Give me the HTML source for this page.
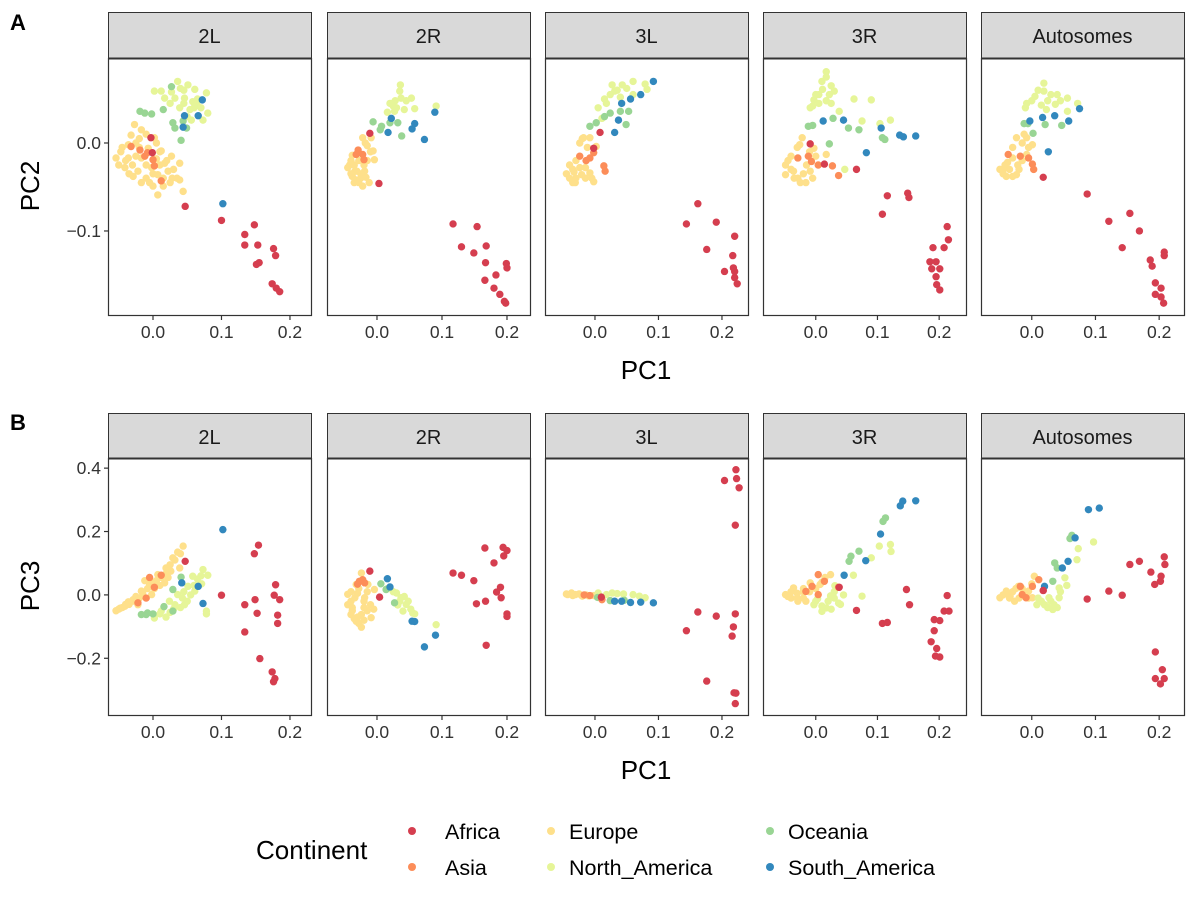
<!DOCTYPE html>
<html><head><meta charset="utf-8"><style>
body{margin:0;background:#fff;}
svg{display:block;font-family:"Liberation Sans",Arial,sans-serif;}
</style></head><body>
<svg id="chart" width="1200" height="901" viewBox="0 0 1200 901" xmlns="http://www.w3.org/2000/svg">
<text x="10" y="30" font-size="22" font-weight="bold">A</text>
<text x="10" y="430" font-size="22" font-weight="bold">B</text>
<text x="646" y="379" font-size="26" text-anchor="middle">PC1</text>
<text x="646" y="779" font-size="26" text-anchor="middle">PC1</text>
<text transform="translate(39,186) rotate(-90)" font-size="26" text-anchor="middle">PC2</text>
<text transform="translate(39,586) rotate(-90)" font-size="26" text-anchor="middle">PC3</text>
<g id="panels"></g>
<g>
<text x="256" y="859" font-size="26">Continent</text>
<g><circle cx="412" cy="831" r="4" fill="#d53e4f"/><text x="445" y="839" font-size="21.5">Africa</text></g>
<g><circle cx="412" cy="867" r="4" fill="#fc8d59"/><text x="445" y="875" font-size="21.5">Asia</text></g>
<g><circle cx="551" cy="831" r="4" fill="#fee08b"/><text x="569" y="839" font-size="21.5">Europe</text></g>
<g><circle cx="551" cy="867" r="4" fill="#e6f598"/><text x="569" y="875" font-size="21.5">North_America</text></g>
<g><circle cx="770" cy="831" r="4" fill="#99d594"/><text x="788" y="839" font-size="21.5">Oceania</text></g>
<g><circle cx="770" cy="867" r="4" fill="#3288bd"/><text x="788" y="875" font-size="21.5">South_America</text></g>
</g>
</svg>
<script>
const panelNames = ["2L","2R","3L","3R","Autosomes"];
const xTicks = [0.0, 0.1, 0.2];
const xTickLabels = ["0.0","0.1","0.2"];
const yTicksA = [0.0, -0.1];
const yTickLabelsA = ["0.0","\u22120.1"];
const yTicksB = [0.4, 0.2, 0.0, -0.2];
const yTickLabelsB = ["0.4","0.2","0.0","\u22120.2"];
const continents = ["Eu","NA","Oc","As","SA","Af"];
const continentColors = {Af:"#d53e4f",As:"#fc8d59",Eu:"#fee08b",NA:"#e6f598",Oc:"#99d594",SA:"#3288bd"};

const pc2_2L = [[0.047,-0.072,"Af"],[0.100,-0.088,"Af"],[0.148,-0.093,"Af"],[0.134,-0.104,"Af"],[0.134,-0.116,"Af"],[0.153,-0.116,"Af"],[0.176,-0.120,"Af"],[0.179,-0.128,"Af"],[0.151,-0.138,"Af"],[0.155,-0.136,"Af"],[0.174,-0.160,"Af"],[0.180,-0.165,"Af"],[0.185,-0.169,"Af"],[-0.003,0.006,"Af"],[-0.001,-0.011,"Af"],
[0.102,-0.069,"SA"],[0.072,0.049,"SA"],[0.046,0.031,"SA"],[0.066,0.031,"SA"],[0.044,0.018,"SA"],
[-0.019,0.036,"Oc"],[-0.012,0.034,"Oc"],[-0.002,0.033,"Oc"],[0.015,0.038,"Oc"],[0.027,0.064,"Oc"],[0.029,0.023,"Oc"],[0.032,0.017,"Oc"],[0.049,0.017,"Oc"],[0.041,0.003,"Oc"],[0.044,0.025,"Oc"],
[0.002,0.059,"NA"],[0.017,0.051,"NA"],[0.036,0.070,"NA"],[0.051,0.066,"NA"],[0.061,0.061,"NA"],[0.078,0.057,"NA"],[0.032,0.051,"NA"],[0.046,0.051,"NA"],[0.058,0.047,"NA"],[0.039,0.040,"NA"],[0.054,0.038,"NA"],[0.080,0.034,"NA"],[0.073,0.026,"NA"],[0.056,0.026,"NA"],[0.027,0.058,"NA"],[0.012,0.059,"NA"],[0.040,0.062,"NA"],[0.064,0.044,"NA"],
[0.045,0.060,"NA"],[0.065,0.050,"NA"],[0.070,0.040,"NA"],[0.045,0.045,"NA"],[0.060,0.040,"NA"],[0.025,0.045,"NA"],[0.050,0.030,"NA"],
[-0.027,0.021,"Eu"],[-0.017,0.015,"Eu"],[-0.032,0.009,"Eu"],[0.002,0.006,"Eu"],[-0.054,-0.017,"Eu"],[-0.036,-0.017,"Eu"],[-0.017,-0.017,"Eu"],[0.012,-0.009,"Eu"],[0.027,-0.015,"Eu"],[0.039,-0.023,"Eu"],[-0.041,-0.028,"Eu"],[-0.022,-0.032,"Eu"],[-0.002,-0.028,"Eu"],[0.022,-0.032,"Eu"],[0.039,-0.042,"Eu"],[-0.017,-0.045,"Eu"],[0.000,-0.049,"Eu"],[0.007,-0.059,"Eu"],[0.044,-0.055,"Eu"],[0.015,-0.049,"Eu"],[-0.036,-0.002,"Eu"],[-0.007,-0.006,"Eu"],[0.017,-0.023,"Eu"],[-0.029,-0.038,"Eu"],[0.007,-0.036,"Eu"],[-0.047,-0.010,"Eu"],[-0.025,0.000,"Eu"],[0.005,-0.018,"Eu"],[-0.010,-0.040,"Eu"],[0.028,-0.040,"Eu"],
[-0.045,-0.005,"Eu"],[-0.040,-0.020,"Eu"],[-0.030,-0.025,"Eu"],[-0.020,-0.005,"Eu"],[-0.010,-0.025,"Eu"],[0.000,-0.035,"Eu"],[0.010,-0.025,"Eu"],[0.020,-0.020,"Eu"],[0.030,-0.030,"Eu"],[0.025,-0.045,"Eu"],[-0.005,-0.045,"Eu"],[-0.020,0.005,"Eu"],[-0.010,0.010,"Eu"],[0.005,0.000,"Eu"],[-0.050,-0.025,"Eu"],[-0.035,-0.035,"Eu"],[0.015,-0.040,"Eu"],[0.035,-0.040,"Eu"],[-0.025,-0.015,"Eu"],[0.010,-0.010,"Eu"],
[-0.032,-0.004,"As"],[-0.019,-0.008,"As"],[-0.012,-0.015,"As"],[0.000,-0.019,"As"],[0.002,-0.026,"As"],[0.012,-0.043,"As"],[-0.008,-0.011,"As"]];

const pc2_2R = [[-0.011,0.011,"Af"],[0.003,-0.046,"Af"],[0.117,-0.092,"Af"],[0.154,-0.095,"Af"],[0.130,-0.118,"Af"],[0.149,-0.125,"Af"],[0.168,-0.117,"Af"],[0.167,-0.136,"Af"],[0.199,-0.137,"Af"],[0.200,-0.142,"Af"],[0.183,-0.150,"Af"],[0.166,-0.156,"Af"],[0.180,-0.165,"Af"],[0.189,-0.172,"Af"],[0.196,-0.180,"Af"],[0.198,-0.182,"Af"],
[0.017,0.012,"SA"],[0.022,0.028,"SA"],[0.054,0.016,"SA"],[0.058,0.022,"SA"],[0.073,0.004,"SA"],[0.089,0.035,"SA"],
[-0.006,0.024,"Oc"],[0.007,0.019,"Oc"],[0.020,0.023,"Oc"],[0.032,0.023,"Oc"],[0.038,0.008,"Oc"],[0.005,0.015,"Oc"],
[0.036,0.066,"NA"],[0.035,0.059,"NA"],[0.020,0.045,"NA"],[0.037,0.051,"NA"],[0.053,0.051,"NA"],[0.058,0.039,"NA"],[0.027,0.036,"NA"],[0.016,0.035,"NA"],[0.091,0.042,"NA"],[0.028,0.048,"NA"],
[0.030,0.040,"NA"],[0.045,0.048,"NA"],[0.025,0.042,"NA"],[0.042,0.038,"NA"],
[-0.022,0.006,"Eu"],[-0.009,0.006,"Eu"],[-0.006,-0.009,"Eu"],[-0.004,-0.019,"Eu"],[-0.042,-0.025,"Eu"],[-0.034,-0.032,"Eu"],[-0.038,-0.014,"Eu"],[-0.019,-0.032,"Eu"],[-0.032,-0.042,"Eu"],[-0.022,-0.049,"Eu"],[-0.031,-0.032,"Eu"],[-0.025,-0.040,"Eu"],[-0.045,-0.028,"Eu"],[-0.017,-0.039,"Eu"],[-0.015,-0.003,"Eu"],[-0.038,-0.038,"Eu"],
[-0.040,-0.020,"Eu"],[-0.035,-0.025,"Eu"],[-0.028,-0.020,"Eu"],[-0.028,-0.045,"Eu"],[-0.040,-0.035,"Eu"],[-0.015,-0.020,"Eu"],[-0.012,-0.045,"Eu"],[-0.020,-0.025,"Eu"],[-0.010,-0.010,"Eu"],[-0.035,-0.045,"Eu"],[-0.018,0.000,"Eu"],[-0.025,-0.035,"Eu"],
[-0.029,-0.008,"As"],[-0.022,-0.013,"As"],[-0.032,-0.013,"As"],[-0.020,-0.019,"As"]];

const pc2_3L = [[0.008,0.012,"Af"],[-0.002,-0.006,"Af"],[0.162,-0.069,"Af"],[0.144,-0.092,"Af"],[0.191,-0.090,"Af"],[0.220,-0.106,"Af"],[0.176,-0.121,"Af"],[0.217,-0.128,"Af"],[0.204,-0.146,"Af"],[0.220,-0.146,"Af"],[0.220,-0.153,"Af"],[0.224,-0.160,"Af"],[0.218,-0.142,"Af"],
[0.092,0.070,"SA"],[0.072,0.055,"SA"],[0.056,0.050,"SA"],[0.042,0.045,"SA"],[0.037,0.026,"SA"],[0.031,0.012,"SA"],
[-0.008,0.019,"Oc"],[0.002,0.023,"Oc"],[0.024,0.034,"Oc"],[0.040,0.036,"Oc"],[0.053,0.036,"Oc"],[0.049,0.021,"Oc"],[0.015,0.030,"Oc"],
[0.027,0.066,"NA"],[0.043,0.066,"NA"],[0.060,0.070,"NA"],[0.079,0.067,"NA"],[0.082,0.061,"NA"],[0.024,0.055,"NA"],[0.018,0.045,"NA"],[0.005,0.040,"NA"],[0.031,0.059,"NA"],[0.011,0.028,"NA"],[0.060,0.055,"NA"],
[0.035,0.060,"NA"],[0.050,0.062,"NA"],[0.015,0.050,"NA"],[0.040,0.052,"NA"],
[-0.024,0.000,"Eu"],[-0.008,0.006,"Eu"],[0.002,-0.004,"Eu"],[-0.040,-0.025,"Eu"],[-0.040,-0.040,"Eu"],[-0.021,-0.036,"Eu"],[-0.008,-0.034,"Eu"],[-0.002,-0.044,"Eu"],[-0.031,-0.045,"Eu"],[-0.024,-0.028,"Eu"],[-0.018,0.006,"Eu"],[-0.033,-0.033,"Eu"],
[-0.035,-0.030,"Eu"],[-0.030,-0.040,"Eu"],[-0.015,-0.040,"Eu"],[-0.030,-0.020,"Eu"],[-0.015,-0.028,"Eu"],[-0.005,-0.040,"Eu"],[-0.035,-0.045,"Eu"],[-0.020,0.005,"Eu"],[-0.012,-0.005,"Eu"],[-0.045,-0.035,"Eu"],
[-0.024,-0.015,"As"],[-0.008,-0.017,"As"],[-0.002,-0.011,"As"],[0.014,-0.026,"As"],[0.016,-0.032,"As"],[-0.014,-0.020,"As"]];

const pc2_3R = [[-0.009,-0.001,"Af"],[0.014,-0.024,"Af"],[0.066,-0.030,"Af"],[0.116,-0.060,"Af"],[0.149,-0.057,"Af"],[0.151,-0.062,"Af"],[0.108,-0.081,"Af"],[0.213,-0.095,"Af"],[0.215,-0.110,"Af"],[0.190,-0.119,"Af"],[0.208,-0.119,"Af"],[0.185,-0.135,"Af"],[0.195,-0.135,"Af"],[0.201,-0.143,"Af"],[0.188,-0.143,"Af"],[0.195,-0.152,"Af"],[0.196,-0.161,"Af"],[0.201,-0.167,"Af"],
[0.012,0.025,"SA"],[0.045,0.026,"SA"],[0.106,0.017,"SA"],[0.136,0.009,"SA"],[0.142,0.007,"SA"],[0.162,0.008,"SA"],[0.082,-0.011,"SA"],
[-0.012,0.019,"Oc"],[-0.005,0.020,"Oc"],[0.028,0.028,"Oc"],[0.053,0.017,"Oc"],[0.070,0.015,"Oc"],[0.108,0.006,"Oc"],[0.112,0.004,"Oc"],[0.022,-0.001,"Oc"],
[0.017,0.081,"NA"],[0.017,0.075,"NA"],[0.011,0.061,"NA"],[0.030,0.059,"NA"],[-0.003,0.049,"NA"],[0.017,0.048,"NA"],[-0.009,0.040,"NA"],[0.062,0.050,"NA"],[0.090,0.049,"NA"],[0.038,0.036,"NA"],[0.075,0.025,"NA"],[0.121,0.026,"NA"],[0.104,0.022,"NA"],[0.047,-0.030,"NA"],[0.005,0.055,"NA"],
[0.010,0.070,"NA"],[0.025,0.065,"NA"],[0.000,0.055,"NA"],[0.022,0.055,"NA"],[0.005,0.045,"NA"],[-0.005,0.042,"NA"],[0.025,0.045,"NA"],
[-0.022,0.006,"Eu"],[-0.026,-0.002,"Eu"],[-0.003,-0.006,"Eu"],[0.017,-0.013,"Eu"],[-0.049,-0.025,"Eu"],[-0.049,-0.036,"Eu"],[-0.029,-0.040,"Eu"],[-0.016,-0.045,"Eu"],[-0.036,-0.032,"Eu"],[-0.009,-0.032,"Eu"],[-0.040,-0.015,"Eu"],
[-0.040,-0.030,"Eu"],[-0.035,-0.040,"Eu"],[-0.020,-0.035,"Eu"],[-0.045,-0.020,"Eu"],[-0.015,-0.025,"Eu"],[-0.025,-0.045,"Eu"],[-0.010,-0.010,"Eu"],[-0.005,-0.040,"Eu"],[-0.030,-0.005,"Eu"],[0.000,-0.015,"Eu"],
[-0.029,-0.017,"As"],[-0.012,-0.015,"As"],[0.004,-0.025,"As"],[0.027,-0.026,"As"],[0.037,-0.037,"As"],[-0.007,-0.021,"As"]];

const pc2_Auto = [[0.018,-0.039,"Af"],[0.087,-0.058,"Af"],[0.121,-0.089,"Af"],[0.154,-0.080,"Af"],[0.169,-0.100,"Af"],[0.142,-0.119,"Af"],[0.186,-0.133,"Af"],[0.189,-0.140,"Af"],[0.208,-0.124,"Af"],[0.208,-0.128,"Af"],[0.194,-0.159,"Af"],[0.203,-0.165,"Af"],[0.194,-0.172,"Af"],[0.203,-0.175,"Af"],[0.207,-0.182,"Af"],
[-0.003,0.025,"SA"],[0.017,0.029,"SA"],[0.036,0.031,"SA"],[0.058,0.025,"SA"],[0.075,0.039,"SA"],[0.026,-0.010,"SA"],
[-0.012,0.022,"Oc"],[-0.006,0.022,"Oc"],[0.002,0.011,"Oc"],[0.021,0.021,"Oc"],[0.047,0.020,"Oc"],
[0.019,0.068,"NA"],[0.019,0.059,"NA"],[0.005,0.053,"NA"],[-0.008,0.045,"NA"],[0.030,0.055,"NA"],[0.037,0.044,"NA"],[0.056,0.051,"NA"],[0.072,0.045,"NA"],[0.056,0.036,"NA"],[0.023,0.038,"NA"],[-0.010,0.040,"NA"],
[0.010,0.060,"NA"],[0.025,0.048,"NA"],[0.040,0.055,"NA"],[0.045,0.048,"NA"],[0.000,0.048,"NA"],[0.015,0.043,"NA"],
[-0.024,0.006,"Eu"],[-0.008,0.006,"Eu"],[0.001,-0.002,"Eu"],[-0.050,-0.030,"Eu"],[-0.040,-0.038,"Eu"],[-0.024,-0.036,"Eu"],[-0.022,-0.025,"Eu"],[-0.042,-0.025,"Eu"],[-0.008,-0.013,"Eu"],[-0.030,-0.017,"Eu"],[-0.015,0.000,"Eu"],
[-0.045,-0.030,"Eu"],[-0.035,-0.030,"Eu"],[-0.030,-0.038,"Eu"],[-0.045,-0.035,"Eu"],[-0.015,-0.020,"Eu"],[-0.020,-0.030,"Eu"],[-0.030,-0.005,"Eu"],[-0.012,0.010,"Eu"],[-0.005,-0.005,"Eu"],[-0.038,-0.022,"Eu"],
[-0.037,-0.013,"As"],[-0.018,-0.015,"As"],[-0.005,-0.017,"As"],[0.001,-0.024,"As"],[0.003,-0.030,"As"]];

const pc3_2L = [[0.047,0.106,"Af"],[0.154,0.157,"Af"],[0.148,0.130,"Af"],[0.100,-0.001,"Af"],[0.134,-0.031,"Af"],[0.149,-0.015,"Af"],[0.152,-0.058,"Af"],[0.179,0.032,"Af"],[0.177,-0.001,"Af"],[0.185,-0.015,"Af"],[0.182,-0.064,"Af"],[0.182,-0.090,"Af"],[0.134,-0.117,"Af"],[0.156,-0.201,"Af"],[0.174,-0.243,"Af"],[0.178,-0.264,"Af"],[0.176,-0.274,"Af"],
[0.102,0.206,"SA"],[0.073,-0.027,"SA"],[0.042,0.038,"SA"],[0.066,0.027,"SA"],
[-0.054,-0.050,"Eu"],[-0.041,-0.036,"Eu"],[-0.029,-0.015,"Eu"],[-0.017,0.012,"Eu"],[-0.005,0.033,"Eu"],[0.007,0.064,"Eu"],[0.019,0.085,"Eu"],[0.029,0.117,"Eu"],[0.044,0.154,"Eu"],[0.039,0.085,"Eu"],[0.017,0.038,"Eu"],[-0.002,0.001,"Eu"],[-0.022,-0.031,"Eu"],[-0.036,-0.022,"Eu"],[-0.012,0.045,"Eu"],[0.002,0.020,"Eu"],[0.026,0.075,"Eu"],[0.036,0.135,"Eu"],[-0.048,-0.042,"Eu"],
[-0.050,-0.045,"Eu"],[-0.045,-0.040,"Eu"],[-0.035,-0.030,"Eu"],[-0.030,-0.020,"Eu"],[-0.020,-0.010,"Eu"],[-0.015,0.005,"Eu"],[-0.008,0.020,"Eu"],[0.000,0.040,"Eu"],[0.005,0.045,"Eu"],[0.012,0.055,"Eu"],[0.020,0.070,"Eu"],[0.025,0.095,"Eu"],[0.032,0.110,"Eu"],[0.040,0.130,"Eu"],[-0.040,-0.030,"Eu"],[-0.025,-0.005,"Eu"],[0.010,0.030,"Eu"],[0.022,0.055,"Eu"],
[0.012,0.062,"As"],[0.002,0.024,"As"],[-0.022,-0.025,"As"],[-0.010,-0.010,"As"],[-0.005,0.055,"As"],
[-0.017,-0.062,"Oc"],[-0.008,-0.057,"Oc"],[0.029,-0.051,"Oc"],[0.041,0.056,"Oc"],[0.029,0.017,"Oc"],[0.016,-0.037,"Oc"],[-0.010,-0.062,"Oc"],[0.000,-0.060,"Oc"],
[0.002,-0.073,"NA"],[0.019,-0.070,"NA"],[0.012,-0.051,"NA"],[0.032,-0.031,"NA"],[0.046,-0.031,"NA"],[0.036,0.001,"NA"],[0.051,0.027,"NA"],[0.058,0.059,"NA"],[0.073,0.080,"NA"],[0.080,0.062,"NA"],[0.071,0.035,"NA"],[0.078,-0.051,"NA"],[0.078,-0.060,"NA"],[0.061,0.012,"NA"],[0.043,-0.010,"NA"],[0.024,-0.020,"NA"],
[0.010,-0.060,"NA"],[0.025,-0.055,"NA"],[0.040,-0.040,"NA"],[0.050,-0.020,"NA"],[0.055,0.000,"NA"],[0.060,0.030,"NA"],[0.065,0.050,"NA"],[0.030,-0.045,"NA"],[0.045,0.010,"NA"],[0.070,0.060,"NA"]];

const pc3_2R = [[0.004,-0.007,"Af"],[-0.011,0.075,"Af"],[0.117,0.069,"Af"],[0.130,0.062,"Af"],[0.149,0.045,"Af"],[0.166,0.148,"Af"],[0.194,0.150,"Af"],[0.200,0.140,"Af"],[0.195,0.123,"Af"],[0.180,0.101,"Af"],[0.190,0.024,"Af"],[0.184,0.009,"Af"],[0.191,-0.009,"Af"],[0.167,-0.020,"Af"],[0.153,-0.028,"Af"],[0.200,-0.060,"Af"],[0.200,-0.068,"Af"],[0.168,-0.159,"Af"],
[0.016,0.051,"SA"],[0.020,0.025,"SA"],[0.054,-0.083,"SA"],[0.058,-0.084,"SA"],[0.090,-0.127,"SA"],[0.073,-0.164,"SA"],
[0.006,0.035,"Oc"],[0.014,0.017,"Oc"],[0.027,-0.025,"Oc"],
[0.016,0.020,"NA"],[0.030,0.006,"NA"],[0.037,-0.009,"NA"],[0.048,-0.020,"NA"],[0.040,-0.051,"NA"],[0.055,-0.057,"NA"],[0.058,-0.060,"NA"],[0.091,-0.094,"NA"],[0.032,-0.032,"NA"],
[0.025,0.010,"NA"],[0.045,-0.030,"NA"],[0.052,-0.045,"NA"],[0.035,-0.020,"NA"],[0.042,-0.005,"NA"],
[-0.024,0.069,"Eu"],[-0.014,0.033,"Eu"],[-0.004,0.017,"Eu"],[-0.045,-0.031,"Eu"],[-0.034,-0.009,"Eu"],[-0.019,-0.009,"Eu"],[-0.040,-0.062,"Eu"],[-0.024,-0.062,"Eu"],[-0.032,-0.083,"Eu"],[-0.024,-0.102,"Eu"],[-0.010,-0.031,"Eu"],[-0.032,0.033,"Eu"],[-0.045,0.002,"Eu"],[-0.009,-0.072,"Eu"],[-0.020,-0.040,"Eu"],[-0.038,-0.040,"Eu"],
[-0.040,-0.020,"Eu"],[-0.038,-0.050,"Eu"],[-0.030,-0.070,"Eu"],[-0.020,-0.080,"Eu"],[-0.028,-0.090,"Eu"],[-0.015,-0.050,"Eu"],[-0.015,0.010,"Eu"],[-0.040,0.010,"Eu"],[-0.028,0.020,"Eu"],[-0.035,-0.075,"Eu"],[-0.020,-0.020,"Eu"],[-0.005,-0.045,"Eu"],[-0.030,0.005,"Eu"],
[-0.027,0.043,"As"],[-0.019,0.038,"As"],[-0.030,0.034,"As"],[-0.022,0.048,"As"]];

const pc3_3L = [[0.222,0.395,"Af"],[0.223,0.367,"Af"],[0.204,0.361,"Af"],[0.227,0.338,"Af"],[0.221,0.220,"Af"],[0.010,-0.007,"Af"],[0.162,-0.054,"Af"],[0.191,-0.067,"Af"],[0.221,-0.060,"Af"],[0.144,-0.113,"Af"],[0.218,-0.101,"Af"],[0.216,-0.130,"Af"],[0.176,-0.272,"Af"],[0.219,-0.309,"Af"],[0.222,-0.310,"Af"],[0.221,-0.343,"Af"],
[-0.043,0.001,"Eu"],[-0.031,0.001,"Eu"],[-0.014,0.000,"Eu"],[-0.002,-0.002,"Eu"],[-0.037,0.006,"Eu"],[-0.020,-0.004,"Eu"],
[-0.045,0.003,"Eu"],[-0.025,0.003,"Eu"],[-0.010,-0.003,"Eu"],[-0.035,-0.002,"Eu"],
[0.005,0.006,"NA"],[0.027,0.006,"NA"],[0.060,0.001,"NA"],[0.079,-0.009,"NA"],[0.018,0.001,"NA"],[0.035,0.004,"NA"],[0.045,0.003,"NA"],[0.070,-0.004,"NA"],
[0.024,-0.018,"Oc"],[0.046,-0.017,"Oc"],[0.004,-0.008,"Oc"],
[-0.008,-0.002,"As"],[0.011,-0.015,"As"],[-0.017,0.000,"As"],
[0.092,-0.025,"SA"],[0.072,-0.023,"SA"],[0.056,-0.024,"SA"],[0.042,-0.020,"SA"],[0.031,-0.020,"SA"]];

const pc3_3R = [[0.147,0.017,"Af"],[0.152,-0.031,"Af"],[0.066,-0.049,"Af"],[0.108,-0.090,"Af"],[0.116,-0.087,"Af"],[0.213,-0.002,"Af"],[0.208,-0.051,"Af"],[0.216,-0.051,"Af"],[0.192,-0.078,"Af"],[0.201,-0.081,"Af"],[0.192,-0.113,"Af"],[0.187,-0.148,"Af"],[0.196,-0.169,"Af"],[0.194,-0.193,"Af"],[0.201,-0.196,"Af"],[0.038,0.024,"Af"],
[0.141,0.296,"SA"],[0.137,0.281,"SA"],[0.162,0.297,"SA"],[0.105,0.192,"SA"],[0.081,0.108,"SA"],[0.046,0.062,"SA"],
[0.113,0.243,"Oc"],[0.109,0.232,"Oc"],[0.070,0.138,"Oc"],[0.057,0.122,"Oc"],[0.054,0.106,"Oc"],
[0.103,0.154,"NA"],[0.121,0.159,"NA"],[0.122,0.137,"NA"],[0.090,0.117,"NA"],[0.061,0.062,"NA"],[0.075,-0.004,"NA"],[-0.003,-0.031,"NA"],[0.017,-0.041,"NA"],[0.037,-0.026,"NA"],[0.024,-0.003,"NA"],[0.031,0.029,"NA"],[0.010,-0.052,"NA"],[0.003,-0.012,"NA"],
[0.000,-0.020,"NA"],[0.020,-0.020,"NA"],[0.030,-0.010,"NA"],[0.040,-0.030,"NA"],[0.010,-0.035,"NA"],[0.030,0.010,"NA"],[0.045,0.000,"NA"],[0.025,-0.045,"NA"],
[-0.049,0.001,"Eu"],[-0.036,0.022,"Eu"],[-0.009,0.038,"Eu"],[-0.016,-0.020,"Eu"],[0.024,0.064,"Eu"],[-0.029,-0.020,"Eu"],[0.007,0.033,"Eu"],[-0.040,-0.010,"Eu"],[-0.020,0.010,"Eu"],
[-0.045,-0.005,"Eu"],[-0.040,0.010,"Eu"],[-0.030,0.005,"Eu"],[-0.020,0.020,"Eu"],[-0.010,0.010,"Eu"],[0.000,0.020,"Eu"],[-0.030,-0.010,"Eu"],[-0.020,-0.010,"Eu"],[0.010,0.040,"Eu"],[0.015,0.055,"Eu"],
[0.004,0.064,"As"],[-0.006,0.027,"As"],[-0.016,0.011,"As"],[0.004,0.001,"As"],[0.037,0.024,"As"],[0.014,0.043,"As"]];

const pc3_Auto = [[0.018,0.014,"Af"],[0.087,-0.013,"Af"],[0.121,0.012,"Af"],[0.142,-0.001,"Af"],[0.154,0.096,"Af"],[0.169,0.106,"Af"],[0.187,0.072,"Af"],[0.193,0.033,"Af"],[0.202,0.043,"Af"],[0.208,0.120,"Af"],[0.209,0.096,"Af"],[0.203,0.059,"Af"],[0.194,-0.180,"Af"],[0.205,-0.236,"Af"],[0.194,-0.264,"Af"],[0.208,-0.264,"Af"],[0.202,-0.281,"Af"],
[0.089,0.269,"SA"],[0.106,0.274,"SA"],[0.068,0.180,"SA"],[0.057,0.106,"SA"],[0.048,0.085,"SA"],[0.020,0.027,"SA"],
[0.063,0.188,"Oc"],[0.060,0.178,"Oc"],[0.036,0.101,"Oc"],[0.040,0.085,"Oc"],[0.033,0.043,"Oc"],
[0.097,0.167,"NA"],[0.073,0.146,"NA"],[0.071,0.111,"NA"],[0.052,0.054,"NA"],[0.043,0.022,"NA"],[0.027,-0.009,"NA"],[0.043,-0.009,"NA"],[0.033,-0.046,"NA"],[0.008,-0.031,"NA"],[0.020,-0.031,"NA"],[0.035,-0.031,"NA"],
[0.015,-0.020,"NA"],[0.030,-0.020,"NA"],[0.040,-0.040,"NA"],[0.045,0.010,"NA"],[0.025,-0.040,"NA"],[0.055,0.030,"NA"],[0.010,-0.010,"NA"],
[-0.050,-0.009,"Eu"],[-0.040,0.012,"Eu"],[-0.021,0.027,"Eu"],[-0.005,0.012,"Eu"],[0.001,-0.009,"Eu"],[-0.027,-0.020,"Eu"],[0.004,0.059,"Eu"],[-0.034,-0.004,"Eu"],
[-0.045,0.000,"Eu"],[-0.035,-0.010,"Eu"],[-0.030,0.010,"Eu"],[-0.025,0.020,"Eu"],[-0.015,0.020,"Eu"],[-0.010,0.005,"Eu"],[-0.005,-0.010,"Eu"],[-0.020,-0.010,"Eu"],[-0.040,0.005,"Eu"],[0.000,0.035,"Eu"],
[-0.018,0.027,"As"],[-0.015,0.001,"As"],[0.001,0.027,"As"],[0.011,0.048,"As"],[-0.009,-0.009,"As"],[0.018,0.014,"As"]];

const panelLefts = [108, 327, 545, 763, 981];
const panelW = 203;
const xDomains = [[-0.0657,0.2307],[-0.0769,0.2354],[-0.0787,0.2410],[-0.0855,0.2435],[-0.0797,0.2390]];
const rows = [
  {name:"a", top:58, h:257, stripTop:12, dom:[-0.1955,0.0966], ticks:yTicksA, labels:yTickLabelsA, data:[pc2_2L,pc2_2R,pc2_3L,pc2_3R,pc2_Auto]},
  {name:"b", top:458, h:257, stripTop:413, dom:[-0.379,0.432], ticks:yTicksB, labels:yTickLabelsB, data:[pc3_2L,pc3_2R,pc3_3L,pc3_3R,pc3_Auto]}
];
const NS = "http://www.w3.org/2000/svg";
const root = document.getElementById("panels");
function mk(tag, attrs, parent){const e=document.createElementNS(NS,tag);for(const k in attrs)e.setAttribute(k,attrs[k]);parent.appendChild(e);return e;}

rows.forEach(row=>{
  const yScale = v => row.top + row.h - (v-row.dom[0])/(row.dom[1]-row.dom[0])*row.h;
  const ya = mk("g",{},root);
  
  
  row.ticks.forEach((t,i)=>{
    const y = yScale(t);
    mk("line",{x1:104,x2:108,y1:y,y2:y,stroke:"#333","stroke-width":1.2},ya);
    const tx = mk("text",{x:101,y:y+6,"font-size":17.5,"text-anchor":"end",fill:"#333"},ya);
    tx.textContent = row.labels[i];
  });
  panelNames.forEach((pn,pi)=>{
    const L = panelLefts[pi], dom = xDomains[pi];
    const xScale = v => L + (v-dom[0])/(dom[1]-dom[0])*panelW;
    const g = mk("g",{},root);
    
    
    const strip = mk("rect",{x:L+0.5,y:row.stripTop+0.5,width:panelW,height:row.top-row.stripTop,fill:"#d9d9d9",stroke:"#333","stroke-width":1},g);
    
    
    const st = mk("text",{x:L+panelW/2,y:row.stripTop+31,"font-size":20,"text-anchor":"middle",fill:"#1a1a1a"},g);
    st.textContent = pn;
    
    
    const pts = mk("g",{},g);
    
    
    const data = row.data[pi];
    continents.forEach(c=>{
      data.filter(d=>d[2]===c).forEach(d=>{
        const pt = mk("circle",{cx:xScale(d[0]),cy:yScale(d[1]),r:3.7,fill:continentColors[c]},pts);
        
        
      });
    });
    const border = mk("rect",{x:L+0.5,y:row.top+0.5,width:panelW,height:row.h,fill:"none",stroke:"#333","stroke-width":1.2},g);
    
    
    mk("line",{x1:L,x2:L+panelW+1,y1:row.top+0.5,y2:row.top+0.5,stroke:"#333","stroke-width":2},g);
    xTicks.forEach((t,i)=>{
      const x = xScale(t);
      mk("line",{x1:x,x2:x,y1:row.top+row.h,y2:row.top+row.h+5,stroke:"#333","stroke-width":1.2},g);
      const tl = mk("text",{x:x,y:row.top+row.h+23,"font-size":17.5,"text-anchor":"middle",fill:"#333"},g);
      tl.textContent = xTickLabels[i];
      
      
    });
  });
});
</script>
</body></html>
